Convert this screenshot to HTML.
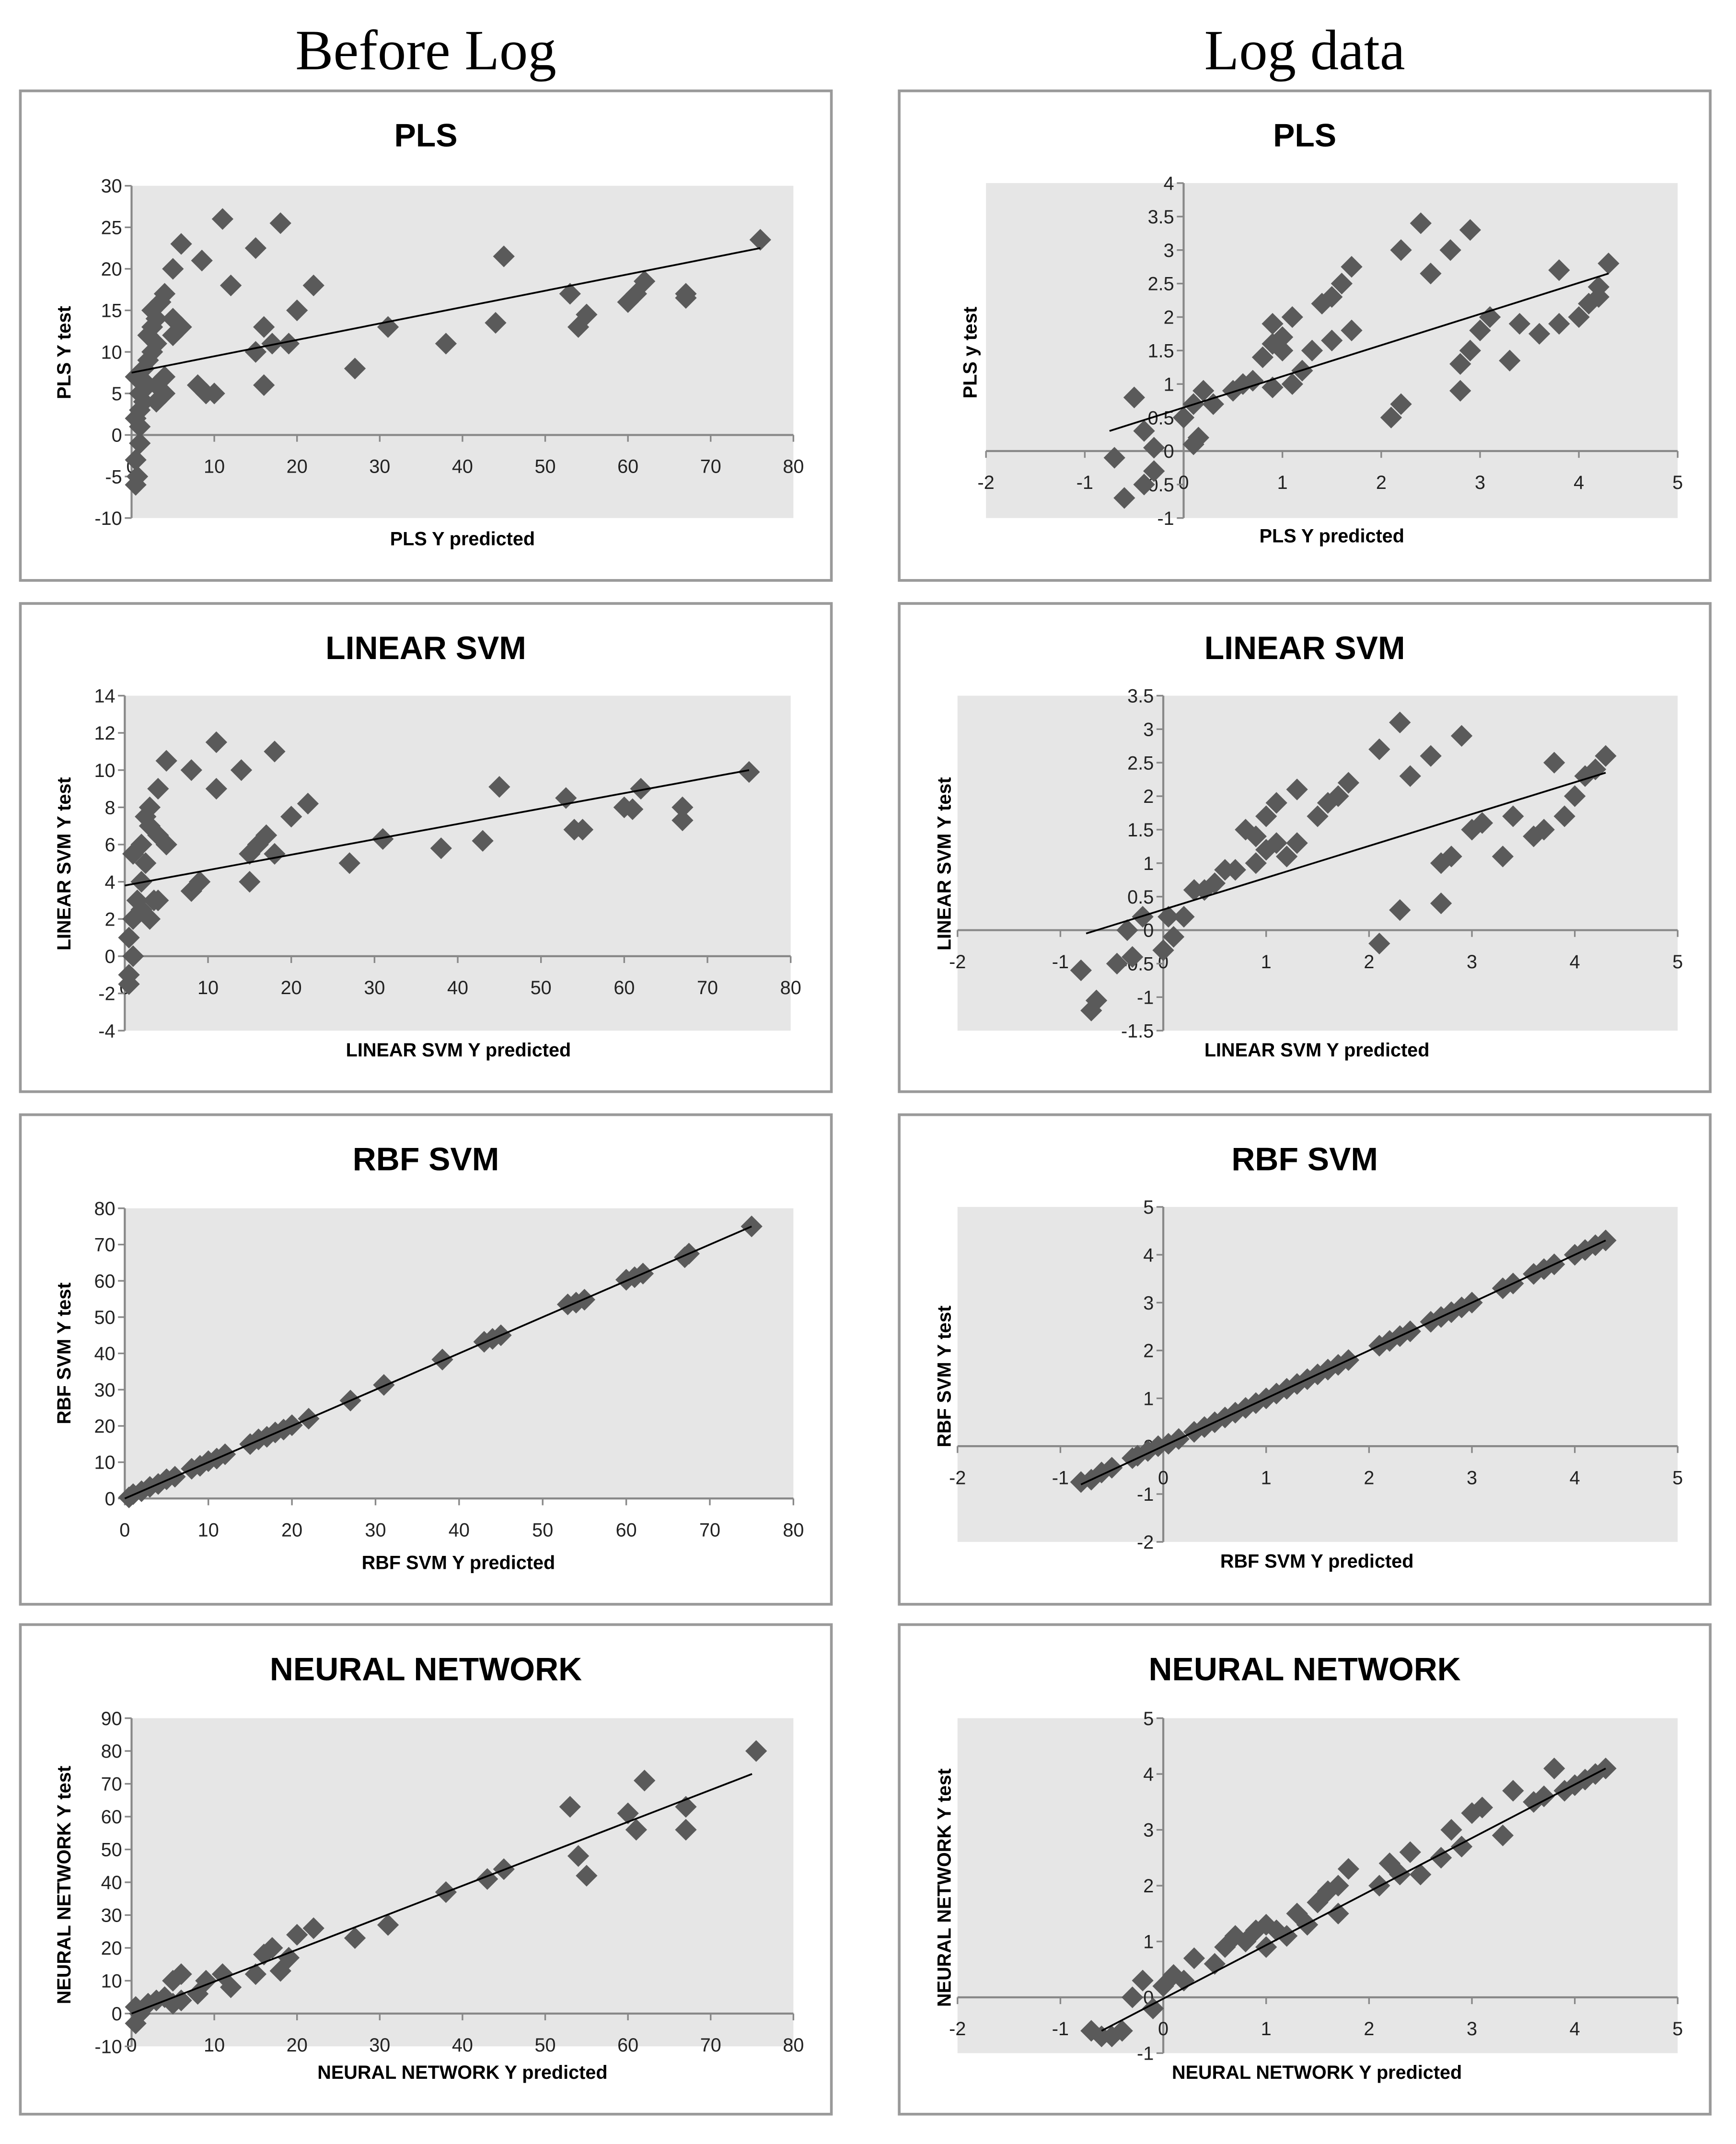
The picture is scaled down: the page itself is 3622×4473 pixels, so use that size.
<!DOCTYPE html>
<html><head><meta charset="utf-8"><style>
html,body{margin:0;padding:0;background:#fff;}
svg{display:block;}
text{font-family:"Liberation Sans",sans-serif;}
</style></head><body>
<svg id="root" width="3622" height="4473" viewBox="0 0 1280 1581" preserveAspectRatio="none" xmlns="http://www.w3.org/2000/svg">
<rect x="0" y="0" width="1280" height="1581" fill="#fff"/>
<text x="314" y="51" text-anchor="middle" style="font-family:'Liberation Serif',serif" font-size="42">Before Log</text>
<text x="962" y="51" text-anchor="middle" style="font-family:'Liberation Serif',serif" font-size="42">Log data</text>
</svg>
<script>
// ---- data arrays ----
const plsRawX=[0.5,0.7,0.5,1,1,0.5,1,1.5,1,2,0.5,1.5,2,2.5,3,2,2.5,3,2.5,3.5,4,3,4,3,4,5,5,5,6,6,8,8.5,9,10,11,12,15,15,16,16,17,18,19,20,22,27,31,38,44,45,53,54,55,60,61,62,67,67,76];
const plsRawY=[-6,-5,-3,-1,1,2,3,4,5,6,7,8,9,10,11,12,13,14,15,16,17,4,5,6,7,12,14,20,23,13,6,21,5,5,26,18,22.5,10,13,6,11,25.5,11,15,18,8,13,11,13.5,21.5,17,13,14.5,16,17,18.5,16.5,17,23.5];
const plsRawFit=[[0,7.5],[76,22.5]];
const linRawX=[0.5,0.5,1,0.5,1,1.5,2,2.5,1,2,3,2.5,3,4,5,4,5,3,3.5,4,2,8,9,8,11,11,14,15,15,16,17,18,18,20,22,27,31,38,43,45,53,54,55,60,61,62,67,67,75];
const linRawY=[-1.5,-1,0,1,2,3,4,5,5.5,6,7,7.5,8,9,10.5,6.5,6,2,3,3,2.5,3.5,4,10,11.5,9,10,5.5,4,6,6.5,11,5.5,7.5,8.2,5,6.3,5.8,6.2,9.1,8.5,6.8,6.8,8,7.9,9,7.3,8,9.9];
const linRawFit=[[0,3.8],[75,10]];
const rbfRawX=[0.5,1,2,3,4,5,6,8,9,10,11,12,15,16,17,18,19,20,22,27,31,38,43,44,45,53,54,55,60,61,62,67,67.5,75];
const rbfRawY=[0.3,1.2,2,3.2,4,5.3,6,8.2,9,10.3,11,12.2,15,16.3,17,18.2,19,20.2,22,27,31.3,38.3,43.2,44,45,53.5,54,54.8,60.3,61,62,66.5,67.5,75];
const rbfRawFit=[[0,0],[75,75]];
const nnRawX=[0.5,1,0.5,2,3,4,5,6,5,6,8,9,11,12,15,16,17,18,19,20,22,27,31,38,43,45,53,54,55,60,61,62,67,67,75.5];
const nnRawY=[-3,0,2,3,4,5,10,12,3,4,6,10,12,8,12,18,20,13,17,24,26,23,27,37,41,44,63,48,42,61,56,71,56,63,80];
const nnRawFit=[[0,0],[75,73]];
const plsLogX=[-0.7,-0.6,-0.4,-0.3,-0.3,-0.4,-0.5,0.1,0.15,0,0.1,0.2,0.3,0.5,0.6,0.7,0.8,0.9,0.9,1,1.1,1,0.9,1.1,1.2,1.3,1.4,1.5,1.6,1.7,1.5,1.7,2.1,2.2,2.2,2.4,2.5,2.7,2.8,2.8,2.9,2.9,3,3.1,3.3,3.4,3.6,3.8,3.8,4,4.1,4.2,4.3,4.2];
const plsLogY=[-0.1,-0.7,-0.5,-0.3,0.05,0.3,0.8,0.1,0.2,0.5,0.7,0.9,0.7,0.9,1,1.05,1.4,1.6,1.9,1.7,2,1.5,0.95,1,1.2,1.5,2.2,2.3,2.5,2.75,1.65,1.8,0.5,0.7,3,3.4,2.65,3,0.9,1.3,1.5,3.3,1.8,2,1.35,1.9,1.75,2.7,1.9,2,2.2,2.3,2.8,2.45];
const plsLogFit=[[-0.75,0.3],[4.3,2.65]];
const linLogX=[-0.8,-0.7,-0.65,-0.45,-0.3,-0.35,-0.2,0,0.1,0.05,0.2,0.3,0.4,0.5,0.6,0.7,0.8,0.9,0.9,1,1,1.1,1.1,1.2,1.3,1.3,1.5,1.6,1.7,1.8,2.1,2.1,2.3,2.3,2.4,2.6,2.7,2.7,2.8,2.9,3,3.1,3.3,3.4,3.6,3.7,3.8,3.9,4,4.1,4.2,4.3];
const linLogY=[-0.6,-1.2,-1.05,-0.5,-0.4,0,0.2,-0.3,-0.1,0.2,0.2,0.6,0.6,0.7,0.9,0.9,1.5,1.4,1,1.7,1.2,1.9,1.3,1.1,1.3,2.1,1.7,1.9,2,2.2,-0.2,2.7,0.3,3.1,2.3,2.6,0.4,1,1.1,2.9,1.5,1.6,1.1,1.7,1.4,1.5,2.5,1.7,2,2.3,2.4,2.6];
const linLogFit=[[-0.75,-0.05],[4.3,2.35]];
const rbfLogX=[-0.8,-0.7,-0.6,-0.5,-0.3,-0.25,-0.15,-0.05,0.05,0.15,0.3,0.4,0.5,0.6,0.7,0.8,0.9,1,1.1,1.2,1.3,1.4,1.5,1.6,1.7,1.8,2.1,2.2,2.3,2.4,2.6,2.7,2.8,2.9,3,3.3,3.4,3.6,3.7,3.8,4,4.1,4.2,4.3];
const rbfLogY=[-0.75,-0.7,-0.55,-0.45,-0.25,-0.2,-0.1,0,0.05,0.15,0.3,0.4,0.5,0.6,0.7,0.8,0.9,1,1.1,1.2,1.3,1.4,1.5,1.6,1.7,1.8,2.1,2.2,2.3,2.4,2.6,2.7,2.8,2.9,3,3.3,3.4,3.6,3.7,3.8,4,4.1,4.2,4.3];
const rbfLogFit=[[-0.8,-0.8],[4.3,4.3]];
const nnLogX=[-0.7,-0.6,-0.5,-0.4,-0.3,-0.2,-0.1,0,0.1,0.2,0.3,0.5,0.6,0.7,0.8,0.9,1,1,1.1,1.2,1.3,1.4,1.5,1.6,1.7,1.7,1.8,2.1,2.2,2.3,2.4,2.5,2.7,2.8,2.9,3,3.1,3.3,3.4,3.6,3.7,3.8,3.9,4,4.1,4.2,4.3];
const nnLogY=[-0.6,-0.7,-0.7,-0.6,0,0.3,-0.2,0.2,0.4,0.3,0.7,0.6,0.9,1.1,1,1.2,1.3,0.9,1.2,1.1,1.5,1.3,1.7,1.9,2,1.5,2.3,2,2.4,2.2,2.6,2.2,2.5,3,2.7,3.3,3.4,2.9,3.7,3.5,3.6,4.1,3.7,3.8,3.9,4,4.1];
const nnLogFit=[[-0.6,-0.6],[4.3,4.1]];
const rawXTicks=[0,10,20,30,40,50,60,70,80];
const plsRawYTicks=[-10,-5,0,5,10,15,20,25,30];
const linRawYTicks=[-4,-2,0,2,4,6,8,10,12,14];
const rbfRawYTicks=[0,10,20,30,40,50,60,70,80];
const nnRawYTicks=[-10,0,10,20,30,40,50,60,70,80,90];
const logXTicks=[-2,-1,0,1,2,3,4,5];
const plsLogYTicks=[-1,-0.5,0,0.5,1,1.5,2,2.5,3,3.5,4];
const linLogYTicks=[-1.5,-1,-0.5,0,0.5,1,1.5,2,2.5,3,3.5];
const rbfLogYTicks=[-2,-1,0,1,2,3,4,5];
const nnLogYTicks=[-1,0,1,2,3,4,5];

const NS="http://www.w3.org/2000/svg";
const root=document.getElementById('root');
function mk(tag,attrs,parent){const e=document.createElementNS(NS,tag);for(const k in attrs)e.setAttribute(k,attrs[k]);(parent||root).appendChild(e);return e;}

function chart(o){
  const g=mk('g',{});
  
  
  const box=mk('rect',{x:o.bx,y:o.by,width:o.bw,height:o.bh,fill:'#fff',stroke:'#9a9a9a','stroke-width':2},g);
  
  
  const t=mk('text',{x:o.bx+o.bw/2,y:o.by+41,'text-anchor':'middle','font-size':24,'font-weight':'bold'},g);
  t.textContent=o.title;
  
  
  const sx=v=>o.px0+(v-o.xmin)/(o.xmax-o.xmin)*(o.px1-o.px0);
  const sy=v=>o.py1-(v-o.ymin)/(o.ymax-o.ymin)*(o.py1-o.py0);
  const bg=mk('rect',{x:o.gx0,y:o.py0,width:o.gx1-o.gx0,height:o.py1-o.py0,fill:'#e6e6e6'},g);
  
  
  const ax=sx(0), ay=sy(0);
  const xa=mk('line',{x1:o.px0,x2:o.px1,y1:ay,y2:ay,stroke:'#888','stroke-width':1.5},g);
  
  
  const ya=mk('line',{x1:ax,x2:ax,y1:o.py0,y2:o.py1,stroke:'#888','stroke-width':1.5},g);
  
  
  o.xt.forEach(v=>{
    mk('line',{x1:sx(v),x2:sx(v),y1:ay,y2:ay+5,stroke:'#888','stroke-width':1.2},g);
    const l=mk('text',{x:sx(v),y:ay+28,'text-anchor':'middle','font-size':14,fill:'#222'},g);
    l.textContent=v;
    
    
  });
  o.yt.forEach(v=>{
    mk('line',{x1:ax-5,x2:ax,y1:sy(v),y2:sy(v),stroke:'#888','stroke-width':1.2},g);
    const l=mk('text',{x:ax-7,y:sy(v)+5,'text-anchor':'end','font-size':14,fill:'#222'},g);
    l.textContent=v;
    
    
  });
  o.xs.forEach((xv,i)=>{
    const cx=sx(xv), cy=sy(o.ys[i]), r=8;
    const d=mk('polygon',{points:`${cx},${cy-r} ${cx+r},${cy} ${cx},${cy+r} ${cx-r},${cy}`,fill:'#5a5a5a'},g);
    
    
  });
  const f=mk('line',{x1:sx(o.fit[0][0]),y1:sy(o.fit[0][1]),x2:sx(o.fit[1][0]),y2:sy(o.fit[1][1]),stroke:'#000','stroke-width':1.3},g);
  
  
  const xt=mk('text',{x:o.xtx,y:o.xty,'text-anchor':'middle','font-size':14,'font-weight':'bold'},g);
  xt.textContent=o.xlabel;
  
  
  const yt=mk('text',{x:0,y:0,'text-anchor':'middle','font-size':14,'font-weight':'bold',transform:`translate(${o.ytx},${o.yty}) rotate(-90)`},g);
  yt.textContent=o.ylabel;
  
  
}

const L={bx:15,bw:598}, R={bx:663,bw:598};
chart({name:'pls-before-log',...L,by:67,bh:361,title:'PLS',xs:plsRawX,ys:plsRawY,fit:plsRawFit,xmin:0,xmax:80,ymin:-10,ymax:30,px0:97,px1:585,gx0:97,gx1:585,py0:137,py1:382,xt:rawXTicks,yt:plsRawYTicks,xlabel:'PLS Y predicted',xtx:341,xty:402,ylabel:'PLS Y test',ytx:52,yty:260});
chart({name:'linear-svm-before-log',...L,by:445,bh:360,title:'LINEAR SVM',xs:linRawX,ys:linRawY,fit:linRawFit,xmin:0,xmax:80,ymin:-4,ymax:14,px0:92,px1:583,gx0:92,gx1:583,py0:513,py1:760,xt:rawXTicks,yt:linRawYTicks,xlabel:'LINEAR SVM Y  predicted',xtx:338,xty:779,ylabel:'LINEAR SVM Y test',ytx:52,yty:637});
chart({name:'rbf-svm-before-log',...L,by:822,bh:361,title:'RBF SVM',xs:rbfRawX,ys:rbfRawY,fit:rbfRawFit,xmin:0,xmax:80,ymin:0,ymax:80,px0:92,px1:585,gx0:92,gx1:585,py0:891,py1:1105,xt:rawXTicks,yt:rbfRawYTicks,xlabel:'RBF SVM Y predicted',xtx:338,xty:1157,ylabel:'RBF SVM Y test',ytx:52,yty:998});
chart({name:'neural-network-before-log',...L,by:1198,bh:361,title:'NEURAL NETWORK',xs:nnRawX,ys:nnRawY,fit:nnRawFit,xmin:0,xmax:80,ymin:-10,ymax:90,px0:97,px1:585,gx0:97,gx1:585,py0:1267,py1:1509,xt:rawXTicks,yt:nnRawYTicks,xlabel:'NEURAL NETWORK Y predicted',xtx:341,xty:1533,ylabel:'NEURAL NETWORK  Y test',ytx:52,yty:1390});
chart({name:'pls-log',...R,by:67,bh:361,title:'PLS',xs:plsLogX,ys:plsLogY,fit:plsLogFit,xmin:-2,xmax:5,ymin:-1,ymax:4,px0:727,px1:1237,gx0:727,gx1:1237,py0:135,py1:382,xt:logXTicks,yt:plsLogYTicks,xlabel:'PLS Y predicted',xtx:982,xty:400,ylabel:'PLS y test',ytx:720,yty:260});
chart({name:'linear-svm-log',...R,by:445,bh:360,title:'LINEAR SVM',xs:linLogX,ys:linLogY,fit:linLogFit,xmin:-2,xmax:5,ymin:-1.5,ymax:3.5,px0:706,px1:1237,gx0:706,gx1:1237,py0:513,py1:760,xt:logXTicks,yt:linLogYTicks,xlabel:'LINEAR SVM Y  predicted',xtx:971,xty:779,ylabel:'LINEAR SVM Y test',ytx:701,yty:637});
chart({name:'rbf-svm-log',...R,by:822,bh:361,title:'RBF SVM',xs:rbfLogX,ys:rbfLogY,fit:rbfLogFit,xmin:-2,xmax:5,ymin:-2,ymax:5,px0:706,px1:1237,gx0:706,gx1:1237,py0:890,py1:1137,xt:logXTicks,yt:rbfLogYTicks,xlabel:'RBF SVM Y predicted',xtx:971,xty:1156,ylabel:'RBF SVM Y test',ytx:701,yty:1015});
chart({name:'neural-network-log',...R,by:1198,bh:361,title:'NEURAL NETWORK',xs:nnLogX,ys:nnLogY,fit:nnLogFit,xmin:-2,xmax:5,ymin:-1,ymax:5,px0:706,px1:1237,gx0:706,gx1:1237,py0:1267,py1:1514,xt:logXTicks,yt:nnLogYTicks,xlabel:'NEURAL NETWORK Y predicted',xtx:971,xty:1533,ylabel:'NEURAL NETWORK  Y test',ytx:701,yty:1392});
</script>
</body></html>
